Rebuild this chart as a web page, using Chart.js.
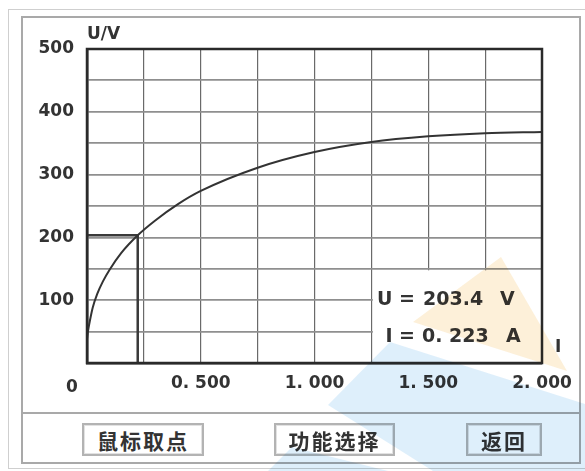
<!DOCTYPE html>
<html><head><meta charset="utf-8">
<script src="https://cdn.jsdelivr.net/npm/chart.js@4.4.1/dist/chart.umd.min.js"></script>
<style>
html,body{margin:0;padding:0;background:#fff;width:585px;height:471px;overflow:hidden;}
#wrap{position:relative;width:585px;height:471px;}
#c{position:absolute;left:0;top:0;}
.frame{position:absolute;box-sizing:border-box;}
#outer{left:8px;top:9px;width:600px;height:460px;border:1.5px solid #cfcfcf;}
#inner{left:21px;top:16px;width:560px;height:448px;border:2px solid #a9a9a9;}
#divider{left:21px;top:412px;width:560px;height:0;border-top:2px solid #a9a9a9;}
.btn{position:absolute;top:423px;height:33px;box-sizing:border-box;border:2px solid #b3b3b3;box-shadow:inset 0 0 0 1px #e2e2e2;font:bold 21px "Noto Sans CJK SC";color:#333;display:flex;align-items:center;justify-content:center;letter-spacing:2px;background:#fff;}
.wm{position:absolute;left:0;top:0;width:585px;height:471px;mix-blend-mode:multiply;pointer-events:none;opacity:0.6;}
#wmY{background:#fbe6c0;clip-path:polygon(501px 257px,413px 322px,567px 371px);}
#wmB1{background:#c8e4f8;clip-path:polygon(390px 342px,585px 404px,585px 471px,433px 471px,328px 405px);}
#wmB2{background:#c8e4f8;clip-path:polygon(292px 447px,268px 471px,388px 471px);}
</style></head>
<body><div id="wrap">
<div class="frame" id="outer"></div>
<div class="frame" id="inner"></div>
<div class="frame" id="divider"></div>
<canvas id="c" width="585" height="471"></canvas>
<div class="btn" style="left:82px;width:122px;">鼠标取点</div>
<div class="btn" style="left:274px;width:121px;">功能选择</div>
<div class="btn" style="left:466px;width:76px;">返回</div>
<div class="wm" id="wmY"></div>
<div class="wm" id="wmB1"></div>
<div class="wm" id="wmB2"></div>
</div>
<script>
// ---- data ----
const currentI = [0, 0.005, 0.012, 0.025, 0.045, 0.07, 0.1, 0.15, 0.223, 0.3, 0.4, 0.5, 0.75, 1.0, 1.25, 1.5, 1.75, 2.0];
const voltageU = [38, 52, 66, 88, 110, 130, 149, 175, 203.4, 227, 253, 274, 311, 336, 352, 361, 366, 368];
const cursorI = 0.223;
const cursorU = 203.4;
const xTickValues = [0.5, 1.0, 1.5, 2.0];
const xTickLabels = ['0. 500', '1. 000', '1. 500', '2. 000'];
const yTickValues = [100, 200, 300, 400, 500];
const xAxisTitle = 'I';
const yAxisTitle = 'U/V';
const originLabel = '0';

const FONT = 'DejaVu Sans';
const TXT = '#333';

const overlay = {
  id: 'overlay',
  beforeDatasetsDraw(chart) {
    const {ctx, chartArea: a, scales: {x, y}} = chart;
    const x0 = x.getPixelForValue(1.25) + 1.5;
    const y0 = y.getPixelForValue(150) + 1.5;
    ctx.save();
    ctx.fillStyle = '#fff';
    ctx.fillRect(x0, y0, a.right - x0, a.bottom - y0);
    ctx.restore();
  },
  afterDatasetsDraw(chart) {
    const {ctx, chartArea: a} = chart;
    ctx.save();
    ctx.strokeStyle = '#2a2a2a';
    ctx.lineWidth = 2.5;
    ctx.strokeRect(a.left, a.top, a.right - a.left, a.bottom - a.top);
    ctx.fillStyle = TXT;
    ctx.font = 'bold 17px "' + FONT + '"';
    ctx.textBaseline = 'middle';
    ctx.textAlign = 'left';
    ctx.fillText(yAxisTitle, a.left, a.top - 14);
    ctx.fillText(xAxisTitle, a.right + 13, a.bottom - 15);
    ctx.textAlign = 'center';
    ctx.fillText(originLabel, a.left - 15, a.bottom + 25);
    // readout
    ctx.font = 'bold 19px "' + FONT + '"';
    const r1 = a.bottom - 63, r2 = a.bottom - 26;
    ctx.textAlign = 'right';
    ctx.fillText('U =', a.right - 127, r1);
    ctx.fillText('I =', a.right - 127, r2);
    ctx.textAlign = 'left';
    ctx.fillText(cursorU.toFixed(1), a.right - 119, r1);
    ctx.fillText(cursorI.toFixed(3).replace('.', '. '), a.right - 120, r2);
    ctx.fillText('V', a.right - 42, r1);
    ctx.fillText('A', a.right - 36, r2);
    ctx.restore();
  }
};

const ctx = document.getElementById('c').getContext('2d');
new Chart(ctx, {
  type: 'line',
  data: {
    datasets: [
      {
        data: currentI.map((v, i) => ({x: v, y: voltageU[i]})),
        borderColor: '#333', borderWidth: 2, pointRadius: 0,
        cubicInterpolationMode: 'monotone'
      },
      {
        data: [{x: 0, y: cursorU}, {x: cursorI, y: cursorU}, {x: cursorI, y: 0}],
        borderColor: '#3a3a3a', borderWidth: 2.5, pointRadius: 0, tension: 0
      }
    ]
  },
  options: {
    responsive: false,
    animation: false,
    layout: {padding: {left: 0, right: 43, top: 49, bottom: 78}},
    plugins: {legend: {display: false}, tooltip: {enabled: false}},
    scales: {
      x: {
        type: 'linear', min: 0, max: 2,
        afterFit(s) { s.height = 30; },
        ticks: {
          stepSize: 0.25, autoSkip: false, maxRotation: 0, padding: 10,
          color: TXT, font: {family: FONT, size: 17, weight: 'bold'},
          callback(v) {
            const k = xTickValues.findIndex(t => Math.abs(t - v) < 1e-6);
            return k >= 0 ? xTickLabels[k] : '';
          }
        },
        grid: {color: '#6a6a6a', lineWidth: 1.2, drawTicks: false},
        border: {display: true, color: '#2a2a2a', width: 2.5}
      },
      y: {
        min: 0, max: 500,
        afterFit(s) { s.width = 87; },
        ticks: {
          stepSize: 50, padding: 13, color: TXT,
          font: {family: FONT, size: 17, weight: 'bold'},
          callback(v) { return yTickValues.includes(v) ? String(v) : ''; }
        },
        grid: {color: '#8f8f8f', lineWidth: 1.8, drawTicks: false},
        border: {display: true, color: '#2a2a2a', width: 2.5}
      }
    }
  },
  plugins: [overlay]
});
</script>
</body></html>
